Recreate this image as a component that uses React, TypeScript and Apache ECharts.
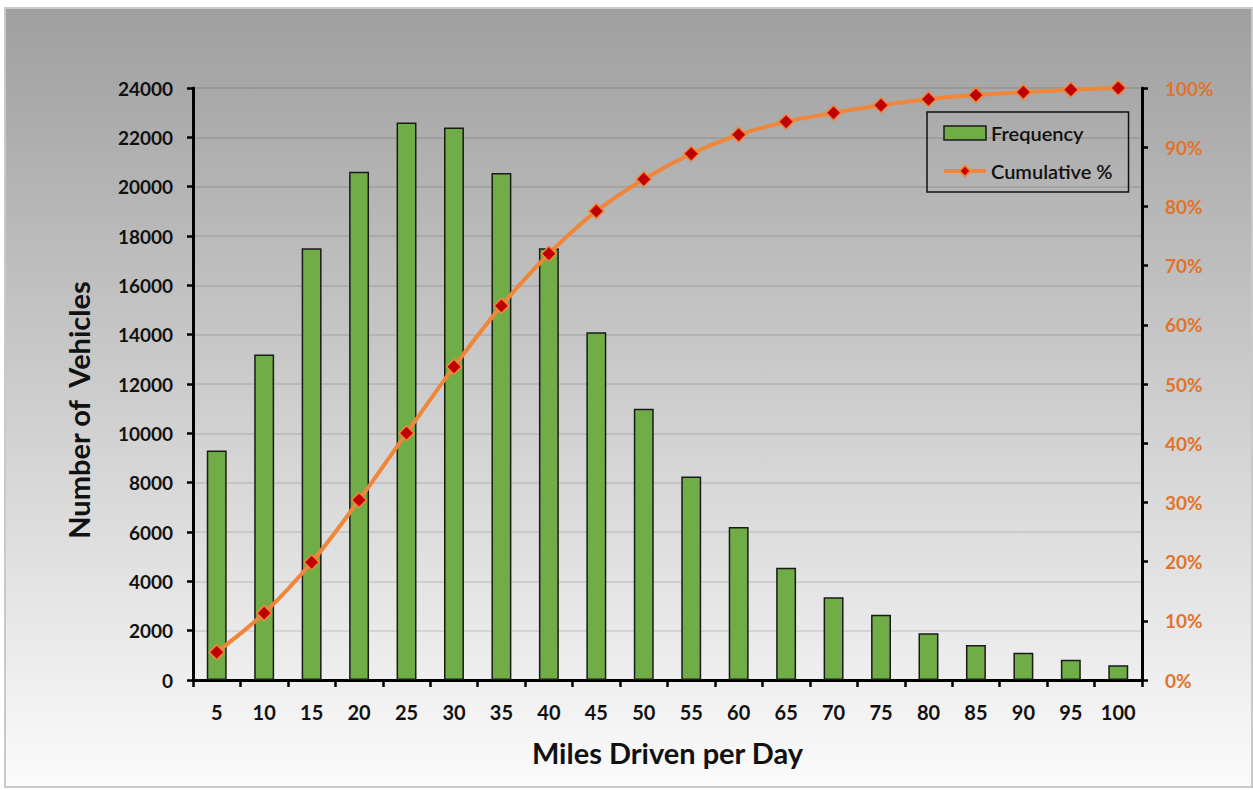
import React, { useEffect, useRef } from "react";
import * as echarts from "echarts";

const miles = ["5", "10", "15", "20", "25", "30", "35", "40", "45", "50", "55", "60", "65", "70", "75", "80", "85", "90", "95", "100"];
const frequency = [9300, 13200, 17500, 20600, 22600, 22400, 20550, 17500, 14100, 11000, 8250, 6200, 4550, 3350, 2650, 1900, 1420, 1100, 820, 600];
const cumulativePct = [4.7, 11.3, 19.9, 30.4, 41.7, 52.9, 63.2, 72.0, 79.2, 84.6, 88.9, 92.1, 94.3, 95.8, 97.1, 98.1, 98.8, 99.3, 99.7, 100];

const FONT = "Lato, 'Open Sans', sans-serif";
const ORANGE = "#f0863a";
const ORANGE_TEXT = "#e0742a";

export default function App() {
  const ref = useRef<HTMLDivElement>(null);

  useEffect(() => {
    if (!ref.current) return;
    const chart = echarts.init(ref.current, undefined, { renderer: "svg" });
    chart.setOption({
      animation: false,
      backgroundColor: "transparent",
      textStyle: { fontFamily: FONT },
      grid: { left: 193, right: 111, top: 88, bottom: 110 },
      legend: {
        left: 927,
        top: 112,
        orient: "vertical",
        padding: [11, 16, 11, 15],
        itemGap: 18,
        itemWidth: 42,
        itemHeight: 14,
        borderColor: "#111",
        borderWidth: 1.5,
        backgroundColor: "transparent",
        textStyle: { fontFamily: FONT, fontSize: 20, fontWeight: 600, color: "#111" },
        data: [
          { name: "Frequency", icon: "rect", itemStyle: { borderWidth: 1.5, borderColor: "#1a1a1a" } },
          { name: "Cumulative %", lineStyle: { width: 4 } },
        ],
      },
      xAxis: {
        type: "category",
        data: miles,
        boundaryGap: true,
        name: "Miles Driven per Day",
        nameLocation: "middle",
        nameGap: 58,
        nameTextStyle: { fontFamily: FONT, fontSize: 29, fontWeight: "bold", color: "#111" },
        axisLine: { lineStyle: { color: "#000", width: 3 } },
        axisTick: { show: true, length: 7, lineStyle: { color: "#000", width: 2.5 } },
        axisLabel: { margin: 22, fontFamily: FONT, fontSize: 20, fontWeight: "bold", color: "#111" },
      },
      yAxis: [
        {
          type: "value",
          min: 0,
          max: 24000,
          interval: 2000,
          axisLine: { show: true, lineStyle: { color: "#000", width: 3 } },
          axisTick: { show: true, length: 6, lineStyle: { color: "#000", width: 2.5 } },
          axisLabel: {
            margin: 20,
            formatter: (v: number) => String(v),
            fontFamily: FONT,
            fontSize: 19,
            fontWeight: "bold",
            color: "#111",
          },
          splitLine: { show: true, lineStyle: { color: "rgba(0,0,0,0.12)", width: 1.5 } },
        },
        {
          type: "value",
          min: 0,
          max: 100,
          interval: 10,
          position: "right",
          axisLine: { show: true, lineStyle: { color: "#000", width: 3 } },
          axisTick: { show: true, length: 6, lineStyle: { color: "#000", width: 2.5 } },
          axisLabel: {
            margin: 23,
            formatter: "{value}%",
            fontFamily: FONT,
            fontSize: 19,
            fontWeight: "bold",
            color: ORANGE_TEXT,
          },
          splitLine: { show: false },
        },
      ],
      series: [
        {
          name: "Frequency",
          type: "bar",
          data: frequency,
          barWidth: "42%",
          itemStyle: { color: "#70ad47", borderColor: "#1a1a1a", borderWidth: 1.5 },
        },
        {
          name: "Cumulative %",
          type: "line",
          yAxisIndex: 1,
          data: cumulativePct,
          smooth: 0.35,
          symbol: "diamond",
          symbolSize: 15,
          lineStyle: { color: ORANGE, width: 4 },
          itemStyle: { color: "#c00000", borderColor: ORANGE, borderWidth: 1.5 },
          z: 5,
        },
      ],
      graphic: [
        {
          type: "text",
          x: 78,
          y: 410,
          rotation: Math.PI / 2,
          style: {
            text: "Number of  Vehicles",
            font: `bold 29px ${FONT}`,
            fill: "#111",
            textAlign: "center",
            textVerticalAlign: "middle",
          },
        },
      ],
    });
    return () => chart.dispose();
  }, []);

  return (
    <div style={{ position: "absolute", left: 0, top: 0, width: 1253, height: 790, background: "#ffffff" }}>
      <div
        style={{
          position: "absolute",
          left: 4,
          top: 7,
          width: 1245,
          height: 777,
          border: "2px solid #c9c9c9",
          background: "linear-gradient(to bottom, #a0a0a0 0%, #a6a6a6 8%, #d2d2d2 55%, #fbfbfb 100%)",
        }}
      />
      <div ref={ref} style={{ position: "absolute", left: 0, top: 0, width: 1253, height: 790 }} />
    </div>
  );
}
